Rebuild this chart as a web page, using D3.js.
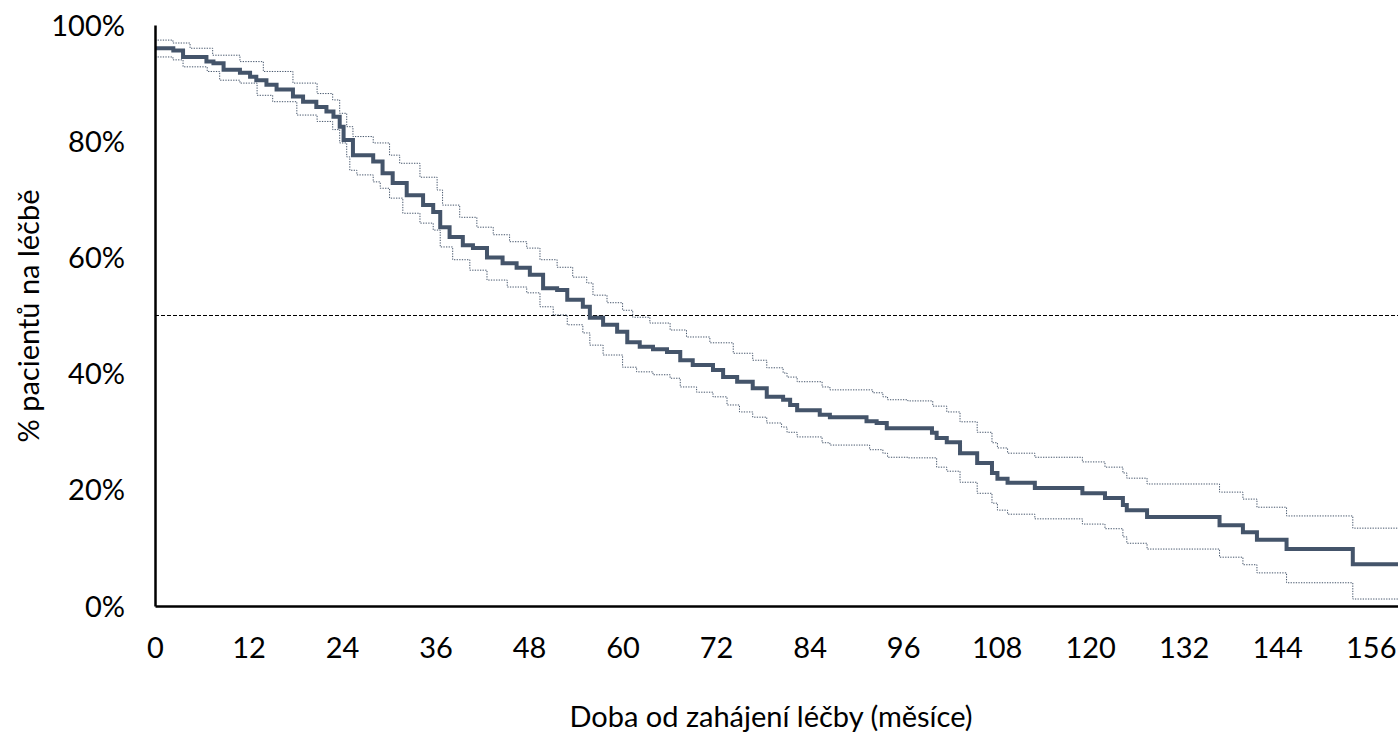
<!DOCTYPE html>
<html>
<head>
<meta charset="utf-8">
<script src="https://cdn.jsdelivr.net/npm/d3@7"></script>
<style>
  html, body { margin: 0; padding: 0; background: #fff; }
  svg { display: block; }
  text { font-family: Lato, "Open Sans", sans-serif; fill: #000; }
</style>
</head>
<body>
<svg id="chart" width="1398" height="741"></svg>
<script>
// ---- Data (months, % of patients on treatment) ----
const xTicks = [0, 12, 24, 36, 48, 60, 72, 84, 96, 108, 120, 132, 144, 156];
const yTicks = [0, 20, 40, 60, 80, 100];
const xMaxMonths = 159.5;
const medianLevel = 50;

const mainT = [0, 2.35, 3.6, 6.6, 7.5, 8.8, 10.9, 12.2, 13.0, 14.3, 15.6, 17.7, 19.0, 20.7, 22.0, 22.9, 23.7, 24.2, 25.4, 28.0, 29.2, 30.5, 32.3, 34.4, 35.7, 36.6, 37.8, 39.5, 40.8, 42.6, 44.6, 46.4, 48.1, 49.8, 51.6, 52.9, 54.9, 55.8, 57.5, 59.3, 60.6, 62.2, 63.9, 65.7, 67.4, 69.0, 71.6, 72.9, 74.7, 76.7, 78.5, 80.6, 81.5, 82.4, 85.3, 86.6, 91.3, 92.6, 93.9, 99.7, 100.3, 101.6, 103.3, 105.5, 107.4, 108.1, 109.4, 112.9, 119.0, 121.9, 124.2, 124.7, 127.3, 136.6, 139.6, 141.4, 145.2, 153.7];
const mainS = [96.0, 95.6, 94.5, 93.7, 93.4, 92.3, 91.8, 91.1, 90.5, 89.7, 88.9, 87.7, 86.8, 85.9, 85.1, 84.2, 82.5, 80.2, 77.6, 76.5, 74.5, 72.8, 70.7, 69.0, 67.8, 65.2, 63.5, 62.1, 61.6, 60.0, 59.0, 58.2, 57.0, 54.7, 54.4, 52.7, 51.5, 49.6, 48.4, 47.2, 45.4, 44.6, 44.2, 43.7, 42.3, 41.5, 40.6, 39.4, 38.6, 37.5, 36.0, 35.5, 34.6, 33.7, 32.9, 32.5, 31.8, 31.5, 30.6, 29.8, 28.9, 28.2, 26.3, 24.6, 22.9, 21.9, 21.2, 20.3, 19.4, 18.6, 17.4, 16.5, 15.3, 13.9, 12.7, 11.4, 9.8, 7.2];

const upperT = [0, 2.3, 4.5, 7.4, 10.9, 13.9, 17.7, 20.8, 22.8, 23.7, 24.6, 25.4, 28.0, 30.1, 31.4, 34.0, 36.2, 36.9, 39.1, 41.3, 43.4, 45.5, 47.7, 49.4, 51.6, 53.6, 55.4, 56.2, 58.0, 60.0, 61.3, 63.5, 66.1, 68.2, 71.2, 74.2, 76.7, 78.5, 80.6, 81.1, 82.4, 85.6, 86.6, 92.1, 93.4, 94.0, 96.6, 99.8, 101.6, 103.3, 105.5, 107.4, 108.1, 109.4, 112.9, 119.0, 121.9, 124.2, 124.7, 127.3, 136.6, 139.6, 141.4, 145.2, 153.7];
const upperS = [97.4, 96.9, 96.0, 94.8, 93.7, 92.0, 90.0, 88.2, 87.1, 84.8, 82.5, 80.8, 79.7, 77.6, 76.2, 73.8, 71.6, 69.0, 66.9, 65.2, 63.9, 62.7, 61.6, 59.6, 58.3, 56.6, 55.6, 53.5, 52.2, 50.9, 49.7, 48.7, 47.5, 46.3, 45.3, 43.5, 42.3, 41.0, 40.1, 39.4, 38.6, 37.7, 37.2, 36.7, 36.0, 35.5, 35.3, 34.4, 33.4, 31.7, 29.9, 28.1, 27.2, 26.3, 25.6, 24.8, 23.9, 22.9, 22.0, 21.0, 19.6, 18.4, 17.0, 15.5, 13.4];

const lowerT = [0, 2.3, 3.6, 6.7, 8.3, 10.9, 13.1, 15.1, 18.2, 20.8, 22.8, 23.7, 24.6, 25.0, 25.9, 28.0, 28.9, 30.1, 31.8, 34.0, 35.7, 36.6, 38.2, 40.4, 42.6, 45.2, 47.7, 49.4, 51.1, 52.9, 54.9, 55.8, 57.5, 60.0, 61.8, 63.9, 66.1, 67.4, 69.5, 71.6, 73.4, 75.0, 76.7, 78.5, 80.4, 81.1, 82.4, 85.6, 86.6, 91.7, 93.4, 94.0, 96.6, 100.3, 101.6, 103.3, 105.5, 107.4, 108.1, 109.4, 112.9, 119.0, 121.9, 124.2, 124.7, 127.3, 136.6, 139.6, 141.4, 145.2, 153.7];
const lowerS = [94.5, 94.0, 92.8, 92.0, 90.5, 90.0, 87.9, 86.8, 84.5, 83.4, 82.0, 79.7, 77.3, 75.0, 74.2, 73.0, 71.9, 70.2, 67.6, 65.9, 64.7, 61.8, 59.6, 57.8, 56.1, 54.9, 53.9, 51.5, 50.1, 48.4, 47.0, 44.9, 43.2, 41.1, 40.3, 39.8, 39.2, 37.7, 36.8, 36.0, 34.6, 33.4, 32.5, 31.5, 30.8, 29.9, 29.1, 28.1, 27.7, 26.9, 26.3, 25.6, 25.5, 23.9, 23.2, 21.3, 19.4, 17.7, 16.5, 15.8, 15.0, 14.1, 13.3, 11.9, 10.8, 9.8, 8.4, 7.1, 5.7, 4.0, 1.2];

const xTitle = "Doba od zahájení léčby (měsíce)";
const yTitle = "% pacientů na léčbě";

// ---- Layout ----
const svg = d3.select("#chart");
const mLeft = 155, mRight = 1398, mTop = 25, mBottom = 606;
const lineColor = "#44546A";
const fontSize = "29px";

const x = d3.scaleLinear().domain([0, xMaxMonths]).range([mLeft, mRight]);
const y = d3.scaleLinear().domain([0, 100]).range([mBottom, mTop]);

function toPoints(ts, ss) {
  const pts = ts.map((t, i) => [t, ss[i]]);
  pts.push([x.domain()[1], ss[ss.length - 1]]);
  return pts;
}
const line = d3.line().x(d => x(d[0])).y(d => y(d[1])).curve(d3.curveStepAfter);

// median reference line
svg.append("line")
  .attr("x1", x(0)).attr("x2", x(xMaxMonths))
  .attr("y1", y(medianLevel)).attr("y2", y(medianLevel))
  .attr("stroke", "#000").attr("stroke-width", 1)
  .attr("stroke-dasharray", "4,2");

// CI lines
[[upperT, upperS], [lowerT, lowerS]].forEach(([ts, ss]) => {
  svg.append("path")
    .attr("d", line(toPoints(ts, ss)))
    .attr("fill", "none")
    .attr("stroke", lineColor)
    .attr("stroke-width", 1)
    .attr("stroke-dasharray", "1.3,1.3");
});

// main KM line
svg.append("path")
  .attr("d", line(toPoints(mainT, mainS)))
  .attr("fill", "none")
  .attr("stroke", lineColor)
  .attr("stroke-width", 4)
  .attr("stroke-linejoin", "miter");

// axes
const xAxis = svg.append("g")
  .attr("transform", `translate(0,${mBottom})`)
  .call(d3.axisBottom(x).tickValues(xTicks).tickSize(0).tickSizeOuter(0).tickFormat(d3.format("d")));
xAxis.select(".domain").attr("stroke", "#000").attr("stroke-width", 2.5);
xAxis.selectAll("text")
  .attr("y", 42).attr("dy", "0.35em")
  .style("font-size", fontSize).style("font-family", "Lato, 'Open Sans', sans-serif").attr("fill", "#000");

const yAxis = svg.append("g")
  .attr("transform", `translate(${mLeft},0)`)
  .call(d3.axisLeft(y).tickValues(yTicks).tickSize(0).tickSizeOuter(0).tickFormat(d => d + "%"));
yAxis.select(".domain").attr("stroke", "#000").attr("stroke-width", 2.5);
yAxis.selectAll("text")
  .attr("x", -30).attr("dy", "0.35em")
  .style("font-size", fontSize).style("font-family", "Lato, 'Open Sans', sans-serif").attr("fill", "#000");

// titles
svg.append("text")
  .attr("x", 771).attr("y", 717).attr("dy", "0.35em")
  .attr("text-anchor", "middle")
  .style("font-size", fontSize)
  .text(xTitle);

svg.append("text")
  .attr("transform", "translate(29,316) rotate(-90)")
  .attr("dy", "0.35em")
  .attr("text-anchor", "middle")
  .style("font-size", fontSize)
  .text(yTitle);
</script>
</body>
</html>
